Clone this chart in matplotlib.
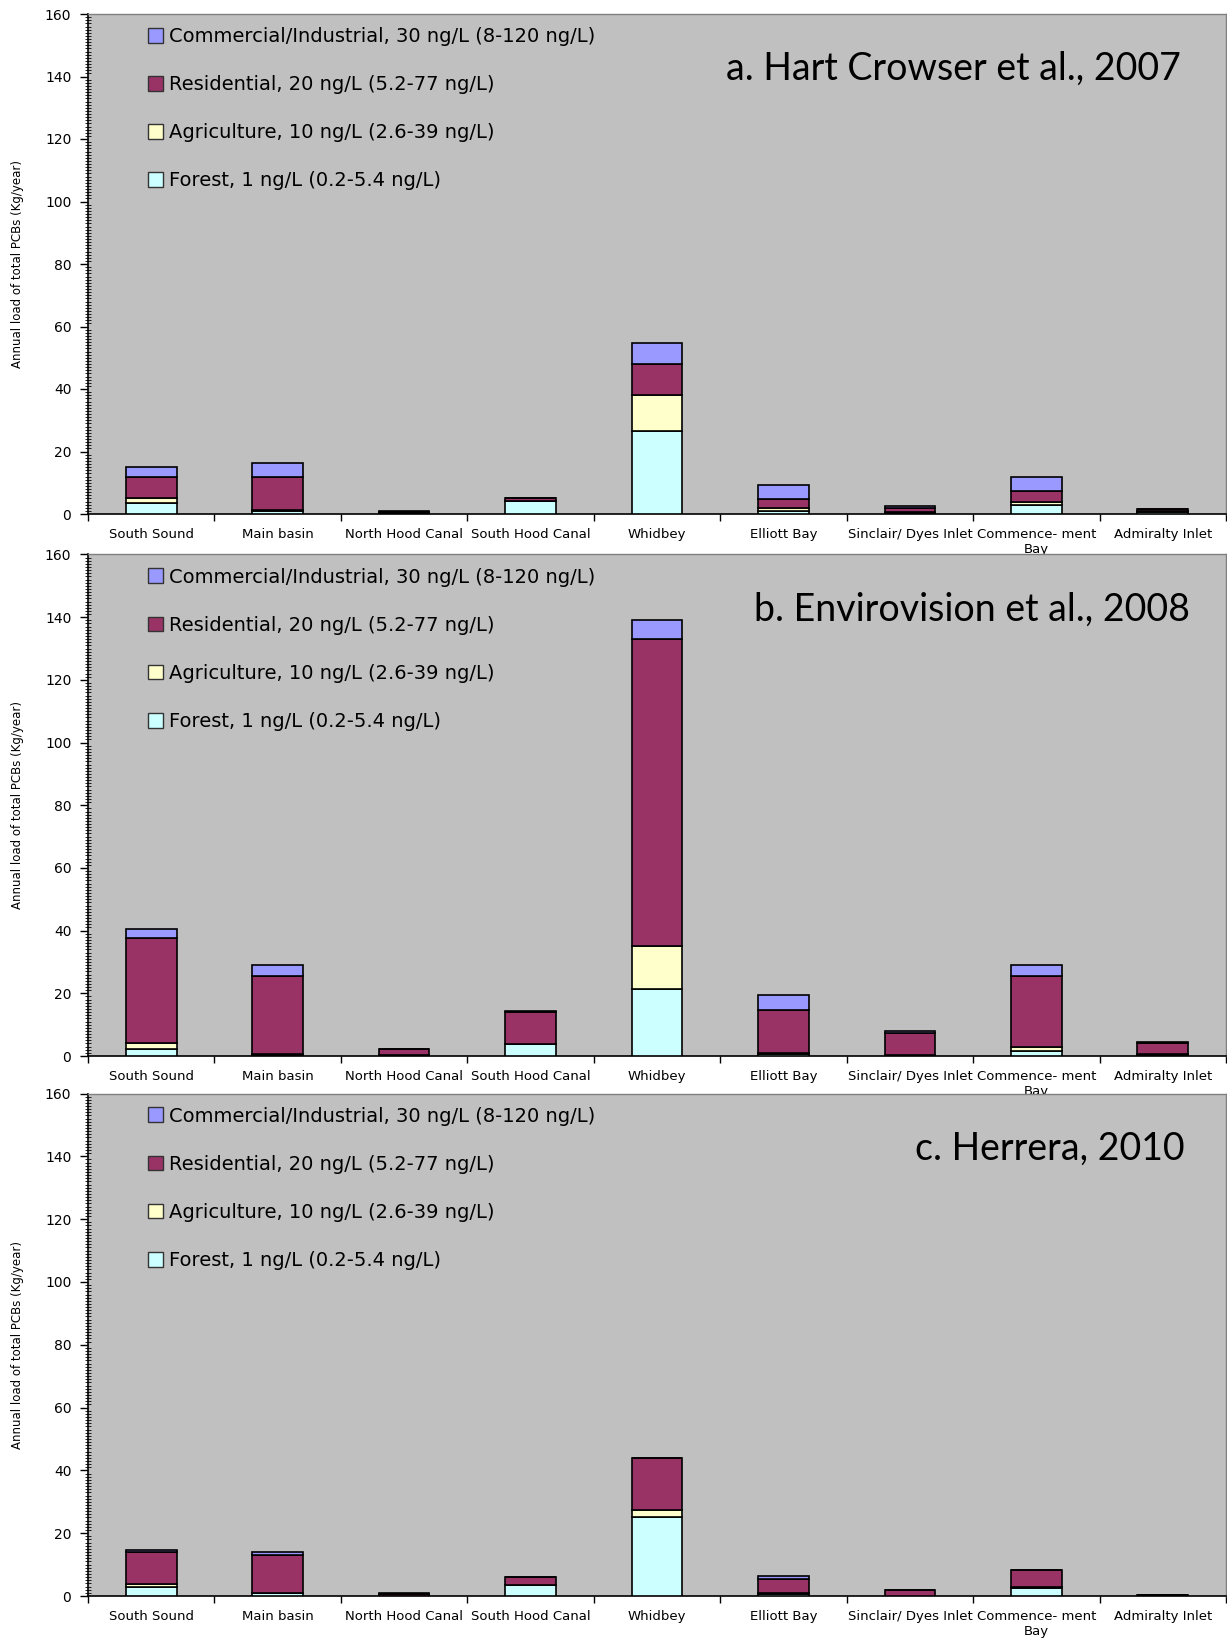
import numpy as np
import matplotlib.pyplot as plt
from matplotlib.patches import Patch
from matplotlib.ticker import MultipleLocator

sites = ["South Sound", "Main basin", "North Hood Canal", "South Hood Canal",
         "Whidbey", "Elliott Bay", "Sinclair/ Dyes Inlet", "Commence- ment\nBay",
         "Admiralty Inlet"]

series = ["Forest, 1 ng/L (0.2-5.4 ng/L)",
          "Agriculture, 10 ng/L (2.6-39 ng/L)",
          "Residential, 20 ng/L (5.2-77 ng/L)",
          "Commercial/Industrial, 30 ng/L (8-120 ng/L)"]
colors = ["#CCFFFF", "#FFFFCC", "#993366", "#9999FF"]

# a. Hart Crowser et al., 2007
forest_a = [3.4, 1.0, 0.2, 4.2, 26.6, 1.1, 0.3, 2.8, 0.5]
agri_a   = [1.8, 0.4, 0.1, 0.1, 11.6, 0.8, 0.2, 0.9, 0.4]
resid_a  = [6.5, 10.3, 0.5, 0.8, 9.9, 3.0, 1.4, 3.6, 0.6]
comm_a   = [3.5, 4.6, 0.1, 0.1, 6.6, 4.3, 0.7, 4.7, 0.1]

# b. Envirovision et al., 2008
forest_b = [2.1, 0.3, 0.1, 3.7, 21.4, 0.5, 0.1, 1.6, 0.3]
agri_b   = [2.0, 0.4, 0.1, 0.1, 13.6, 0.6, 0.1, 1.2, 0.3]
resid_b  = [33.5, 24.7, 2.0, 10.2, 98.1, 13.7, 7.2, 22.7, 3.7]
comm_b   = [3.0, 3.6, 0.1, 0.2, 6.0, 4.6, 0.6, 3.6, 0.1]

# c. Herrera, 2010
forest_c = [3.0, 0.8, 0.1, 3.5, 25.2, 0.7, 0.1, 2.4, 0.1]
agri_c   = [0.8, 0.3, 0.05, 0.1, 2.3, 0.4, 0.05, 0.6, 0.1]
resid_c  = [10.2, 11.8, 0.6, 2.5, 16.3, 4.4, 1.7, 5.2, 0.15]
comm_c   = [0.7, 1.1, 0.05, 0.1, 0.2, 1.0, 0.05, 0.1, 0.05]

panels = [
    ("a. Hart Crowser et al., 2007", [forest_a, agri_a, resid_a, comm_a], 0.960),
    ("b. Envirovision et al., 2008", [forest_b, agri_b, resid_b, comm_b], 0.968),
    ("c. Herrera, 2010", [forest_c, agri_c, resid_c, comm_c], 0.964),
]

W, H = 1227, 1638
fig = plt.figure(figsize=(W / 100, H / 100), dpi=100)
fig.patch.set_facecolor("white")

# axes boxes in pixels: (top, bottom)
boxes = [(14, 514), (554.5, 1056), (1093.5, 1596)]
left_px, right_px = 88, 1226

x = np.arange(len(sites))
for (title, stack, tx), (top, bot) in zip(panels, boxes):
    ax = fig.add_axes([left_px / W, 1 - bot / H, (right_px - left_px) / W, (bot - top) / H])
    ax.set_facecolor("#C0C0C0")
    bottom = np.zeros(len(sites))
    for vals, c in zip(stack, colors):
        ax.bar(x, vals, 0.4, bottom=bottom, color=c, edgecolor="black", linewidth=1.2, zorder=3)
        bottom += np.array(vals)

    ax.set_xlim(-0.5, len(sites) - 0.5)
    ax.set_ylim(0, 160)
    ax.yaxis.set_major_locator(MultipleLocator(20))
    ax.yaxis.set_minor_locator(MultipleLocator(1))
    ax.tick_params(axis="y", which="major", direction="out", length=6, width=1, labelsize=10, pad=6)
    ax.tick_params(axis="y", which="minor", direction="inout", length=4, width=0.6)

    ax.set_xticks(np.arange(-0.5, len(sites)), labels=[])
    ax.set_xticks(x, labels=sites, minor=True)
    ax.tick_params(axis="x", which="major", direction="out", length=5, width=1)
    ax.tick_params(axis="x", which="minor", length=0, labelsize=9.5, pad=10)

    for s in ["top", "right"]:
        ax.spines[s].set_color("#808080")
        ax.spines[s].set_linewidth(1)
    ax.spines["left"].set_linewidth(1.2)
    ax.spines["bottom"].set_linewidth(1.2)

    ax.set_ylabel("Annual load of total PCBs (Kg/year)", fontsize=8.5,
                  family=["Liberation Sans Narrow", "DejaVu Sans"], labelpad=15)

    handles = [Patch(facecolor=c, edgecolor="#333333", linewidth=1) for c in colors][::-1]
    ax.legend(handles, series[::-1], loc="upper left", bbox_to_anchor=(0.0527, 0.974),
              frameon=False, fontsize=14, handlelength=0.78, handleheight=0.78,
              handletextpad=0.3, labelspacing=1.5, borderpad=0, borderaxespad=0)

    ax.text(tx, 0.89, title, transform=ax.transAxes, ha="right", va="center",
            fontsize=27, family=["Lato", "DejaVu Sans"])

fig.savefig("out.png", dpi=100)
